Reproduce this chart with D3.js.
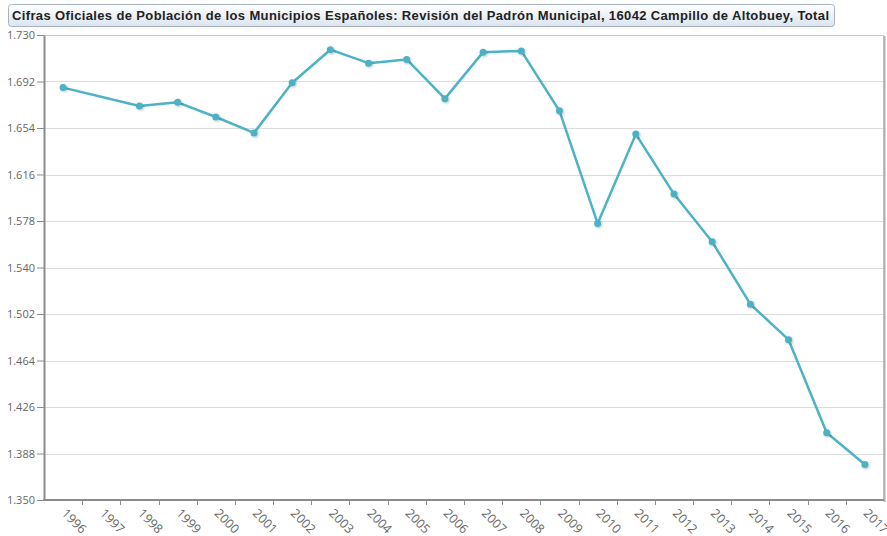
<!DOCTYPE html>
<html>
<head>
<meta charset="utf-8">
<script src="https://cdn.jsdelivr.net/npm/d3@7"></script>
<style>
  body { margin: 0; background: #fff; }
  svg { display: block; }
</style>
</head>
<body>
<svg id="chart"></svg>
<script>
// data
const titleText = 'Cifras Oficiales de Población de los Municipios Españoles: Revisión del Padrón Municipal, 16042 Campillo de Altobuey, Total';
const years = ['1996','1997','1998','1999','2000','2001','2002','2003','2004','2005','2006','2007','2008','2009','2010','2011','2012','2013','2014','2015','2016','2017'];
const dataYears = ['1996','1998','1999','2000','2001','2002','2003','2004','2005','2006','2007','2008','2009','2010','2011','2012','2013','2014','2015','2016','2017'];
const population = [1687,1672,1675,1663,1650,1691,1718,1707,1710,1678,1716,1717,1668,1576,1649,1600,1561,1510,1481,1405,1379];
const yTicks = [1350,1388,1426,1464,1502,1540,1578,1616,1654,1692,1730];

const data = dataYears.map((y, i) => ({ year: y, value: population[i] }));

const W = 887, H = 536;
const margin = { top: 35, right: 3, bottom: 36, left: 44 };
const width = W - margin.left - margin.right;
const height = H - margin.top - margin.bottom;

const svg = d3.select('#chart').attr('width', W).attr('height', H);

const defs = svg.append('defs');
const grad = defs.append('linearGradient').attr('id', 'titleGrad')
  .attr('x1', 0).attr('y1', 0).attr('x2', 0).attr('y2', 1);
grad.append('stop').attr('offset', '0%').attr('stop-color', '#ffffff');
grad.append('stop').attr('offset', '100%').attr('stop-color', '#dbe4ef');

const shadow = defs.append('filter').attr('id', 'ptShadow')
  .attr('x', '-50%').attr('y', '-50%').attr('width', '200%').attr('height', '200%');
shadow.append('feDropShadow').attr('dx', 1).attr('dy', 1).attr('stdDeviation', 0.8)
  .attr('flood-color', '#000').attr('flood-opacity', 0.25);

// title box
svg.append('rect')
  .attr('x', 8.5).attr('y', 4.5).attr('width', 826).attr('height', 22).attr('rx', 3)
  .attr('fill', 'url(#titleGrad)').attr('stroke', '#a9b3bf');
svg.append('text')
  .attr('x', 12).attr('y', 20)
  .attr('textLength', 817).attr('lengthAdjust', 'spacing')
  .style('font-family', '"Liberation Sans", Arial, sans-serif')
  .style('font-size', '13px').style('font-weight', 'bold')
  .attr('fill', '#222')
  .text(titleText);

const g = svg.append('g').attr('transform', `translate(${margin.left},${margin.top})`);

const x = d3.scaleBand().domain(years).range([0, width]).padding(0);
const y = d3.scaleLinear().domain([1350, 1730]).range([height, 0]);

const locale = d3.formatLocale({ decimal: ',', thousands: '.', grouping: [3], currency: ['', ' €'] });
const fmt = locale.format(',d');

// frame
g.append('rect').attr('x', 0.5).attr('y', 0.5).attr('width', width - 1).attr('height', height)
  .attr('fill', '#fff').attr('stroke', '#c8c8c8');
g.append('line').attr('x1', width + 0.5).attr('x2', width + 0.5).attr('y1', 1).attr('y2', height + 2)
  .attr('stroke', '#b0b0b0').attr('stroke-width', 2);

// grid lines
g.append('g').selectAll('line').data(yTicks.slice(1, -1)).enter().append('line')
  .attr('x1', 1).attr('x2', width - 1)
  .attr('y1', d => Math.round(y(d)) + 0.5).attr('y2', d => Math.round(y(d)) + 0.5)
  .attr('stroke', '#dcdcdc').attr('stroke-width', 1);

// y axis
const yAxis = g.append('g')
  .call(d3.axisLeft(y).tickValues(yTicks).tickFormat(fmt).tickSize(7).tickSizeOuter(0));
yAxis.select('.domain').attr('stroke', '#8c8c8c').attr('stroke-width', 2);
yAxis.selectAll('.tick line').attr('stroke', '#8c8c8c');
yAxis.selectAll('.tick text').attr('fill', '#666')
  .style('font-family', '"Open Sans", sans-serif').style('font-size', '11px').attr('x', -9);

// x axis: ticks on band edges, labels rotated under band centres
const xAxisG = g.append('g').attr('transform', `translate(0,${height})`);
xAxisG.append('line').attr('x1', -1).attr('x2', width).attr('y1', 0).attr('y2', 0)
  .attr('stroke', '#8c8c8c').attr('stroke-width', 2);
xAxisG.selectAll('line.tk').data(years.slice(1)).enter().append('line').attr('class', 'tk')
  .attr('x1', d => Math.round(x(d)) + 0.5).attr('x2', d => Math.round(x(d)) + 0.5)
  .attr('y1', 0).attr('y2', 5).attr('stroke', '#8c8c8c');
xAxisG.selectAll('text').data(years).enter().append('text')
  .attr('transform', d => `translate(${x(d) + x.bandwidth() / 2 + 1},${11}) rotate(45)`)
  .attr('text-anchor', 'start')
  .attr('dy', '0.35em')
  .attr('fill', '#666')
  .style('font-family', '"Open Sans", sans-serif').style('font-size', '12.5px')
  .text(d => d);

// line + points
const line = d3.line().x(d => x(d.year) + x.bandwidth() / 2).y(d => y(d.value));
g.append('path').datum(data)
  .attr('d', line).attr('fill', 'none')
  .attr('stroke', '#4cb2c5').attr('stroke-width', 2.5).attr('stroke-linejoin', 'round');

g.append('g').selectAll('circle').data(data).enter().append('circle')
  .attr('cx', d => x(d.year) + x.bandwidth() / 2)
  .attr('cy', d => y(d.value))
  .attr('r', 3.5)
  .attr('fill', '#4cb2c5')
  .attr('filter', 'url(#ptShadow)');
</script>
</body>
</html>
